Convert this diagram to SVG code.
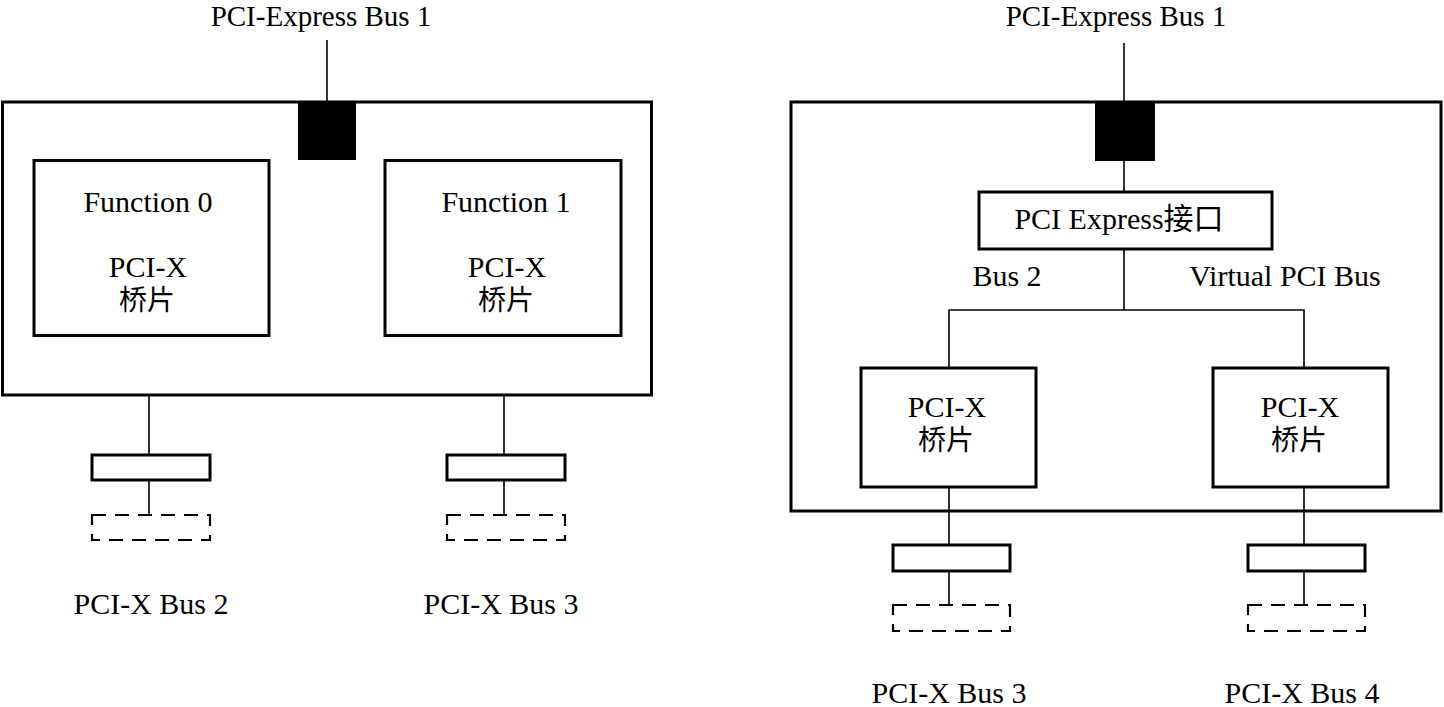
<svg xmlns="http://www.w3.org/2000/svg" width="1444" height="707" viewBox="0 0 1444 707">
<style>
  text { font-family: "Liberation Serif", "Noto Sans CJK SC", serif; font-size: 30px; fill: #000; text-anchor: middle; }
  .cjk { font-size: 28px; }
  .title { font-size: 29px; }
  .box { fill: #fff; stroke: #000; stroke-width: 3; }
  .outer { fill: none; stroke: #000; stroke-width: 3; }
  .slot { fill: #fff; stroke: #000; stroke-width: 3; }
  .dash { fill: none; stroke: #000; stroke-width: 2.2; stroke-dasharray: 14 9; }
  .port { fill: #000; stroke: none; }
  .wire { fill: none; stroke: #000; stroke-width: 1.6; }
</style>
<rect width="1444" height="707" fill="#fff"/>

<!-- connectors -->
<g id="connectors">
  <line class="wire" x1="327" y1="40" x2="327" y2="102"/>
  <line class="wire" x1="149" y1="395" x2="149" y2="455"/>
  <line class="wire" x1="149" y1="480" x2="149" y2="515"/>
  <line class="wire" x1="504" y1="395" x2="504" y2="455"/>
  <line class="wire" x1="504" y1="480" x2="504" y2="515"/>

  <line class="wire" x1="1124" y1="43" x2="1124" y2="102"/>
  <line class="wire" x1="1124" y1="160" x2="1124" y2="192"/>
  <line class="wire" x1="1124" y1="249" x2="1124" y2="310"/>
  <polyline class="wire" points="949,368 949,310 1304,310 1304,368"/>
  <line class="wire" x1="949" y1="487" x2="949" y2="545"/>
  <line class="wire" x1="949" y1="571" x2="949" y2="605"/>
  <line class="wire" x1="1304" y1="487" x2="1304" y2="545"/>
  <line class="wire" x1="1304" y1="571" x2="1304" y2="605"/>
</g>

<!-- Left diagram -->
<g id="left-title"><text class="title" x="321" y="26">PCI-Express Bus 1</text></g>
<g id="left-device"><rect class="outer" x="2.5" y="102" width="649" height="293"/></g>
<g id="left-port"><rect class="port" x="298" y="102" width="58" height="58"/></g>
<g id="function0">
  <rect class="box" x="34" y="160.5" width="235" height="175"/>
  <text x="148" y="212">Function 0</text>
  <text x="148" y="277">PCI-X</text>
  <text class="cjk" x="147" y="310">桥片</text>
</g>
<g id="function1">
  <rect class="box" x="385" y="160.5" width="236" height="175"/>
  <text x="506" y="212">Function 1</text>
  <text x="507" y="277">PCI-X</text>
  <text class="cjk" x="506" y="310">桥片</text>
</g>
<g id="left-slot2">
  <rect class="slot" x="92" y="455" width="118" height="25"/>
  <rect class="dash" x="92" y="515" width="118" height="25"/>
  <text x="151" y="614">PCI-X Bus 2</text>
</g>
<g id="left-slot3">
  <rect class="slot" x="447" y="455" width="118" height="25"/>
  <rect class="dash" x="447" y="515" width="118" height="25"/>
  <text x="501" y="614">PCI-X Bus 3</text>
</g>

<!-- Right diagram -->
<g id="right-title"><text class="title" x="1116" y="26">PCI-Express Bus 1</text></g>
<g id="right-device"><rect class="outer" x="791" y="102" width="650" height="409"/></g>
<g id="right-port"><rect class="port" x="1095" y="102" width="60" height="59"/></g>
<g id="pcie-if">
  <rect class="box" x="979" y="192" width="293" height="57"/>
  <text x="1119" y="229">PCI Express接口</text>
</g>
<g id="bus2-label"><text x="1007" y="286">Bus 2</text></g>
<g id="vbus-label"><text x="1285" y="286">Virtual PCI Bus</text></g>
<g id="bridge-left">
  <rect class="box" x="861" y="368" width="175" height="119"/>
  <text x="947" y="417">PCI-X</text>
  <text class="cjk" x="946" y="450">桥片</text>
</g>
<g id="bridge-right">
  <rect class="box" x="1213" y="368" width="175" height="119"/>
  <text x="1300" y="417">PCI-X</text>
  <text class="cjk" x="1299" y="450">桥片</text>
</g>
<g id="right-slot3">
  <rect class="slot" x="893" y="545" width="117" height="26"/>
  <rect class="dash" x="893" y="605" width="117" height="26"/>
  <text x="949" y="703">PCI-X Bus 3</text>
</g>
<g id="right-slot4">
  <rect class="slot" x="1248" y="545" width="117" height="26"/>
  <rect class="dash" x="1248" y="605" width="117" height="26"/>
  <text x="1302" y="703">PCI-X Bus 4</text>
</g>
</svg>
